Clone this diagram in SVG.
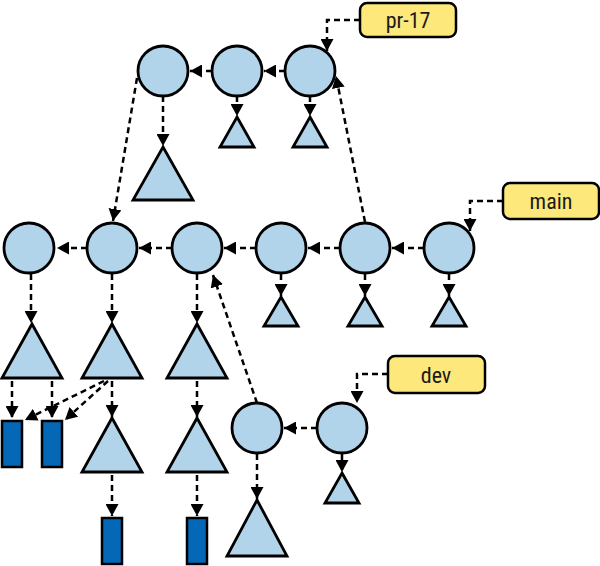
<svg xmlns="http://www.w3.org/2000/svg" width="600" height="566" viewBox="0 0 600 566">
<style>
.c{fill:#b2d4eb;stroke:#000;stroke-width:2.8}
.t{fill:#b2d4eb;stroke:#000;stroke-width:2.8;stroke-linejoin:miter}
.r{fill:#0568b7;stroke:#000;stroke-width:2.5}
.l{fill:#fde87b;stroke:#000;stroke-width:2.5}
.e{fill:none;stroke:#000;stroke-width:2.5;stroke-dasharray:6 4;marker-end:url(#ah)}
.tx{font-family:"Liberation Sans Narrow","Roboto Condensed","Liberation Sans",sans-serif;font-size:22px;fill:#1a1a1a;text-anchor:middle}
</style>
<defs>
<marker id="ah" markerUnits="userSpaceOnUse" markerWidth="13" markerHeight="13" refX="12" refY="6.5" orient="auto" viewBox="0 0 13 13">
<path d="M0,0 L12,6.5 L0,13 z" fill="#000"/>
</marker>
</defs>
<g id="edges">
<path class="e" d="M212,71 H190"/>
<path class="e" d="M285,71 H264"/>
<path class="e" d="M163,96 V146"/>
<path class="e" d="M237,96 V116"/>
<path class="e" d="M310,96 V116"/>
<path class="e" d="M360,20 H327 V51"/>
<path class="e" d="M365,222 L336,76"/>
<path class="e" d="M137,78 L113,221"/>
<path class="e" d="M87,248 H57"/>
<path class="e" d="M172,248 H139"/>
<path class="e" d="M256,248 H224"/>
<path class="e" d="M340,248 H308"/>
<path class="e" d="M424,248 H392"/>
<path class="e" d="M503,201 H470 V231"/>
<path class="e" d="M31,274 V323"/>
<path class="e" d="M112,274 V323"/>
<path class="e" d="M197,274 V323"/>
<path class="e" d="M281,274 V296"/>
<path class="e" d="M365,274 V296"/>
<path class="e" d="M449,274 V296"/>
<path class="e" d="M12,381 V418"/>
<path class="e" d="M52,381 V418"/>
<path class="e" d="M104,381 L25,420"/>
<path class="e" d="M108,381 L65,420"/>
<path class="e" d="M112,381 V417"/>
<path class="e" d="M197,381 V417"/>
<path class="e" d="M112,475 V516"/>
<path class="e" d="M197,475 V516"/>
<path class="e" d="M317,428 H284"/>
<path class="e" d="M388,374 H357 V403"/>
<path class="e" d="M342,454 V472"/>
<path class="e" d="M257,454 V499"/>
<path class="e" d="M257,403 L213,275"/>
</g>
<g id="n-t1"><circle class="c" cx="163" cy="71" r="25"/></g>
<g id="n-t2"><circle class="c" cx="237" cy="71" r="25"/></g>
<g id="n-t3"><circle class="c" cx="310" cy="71" r="25"/></g>
<g id="n-t1tri"><polygon class="t" points="163,147 193,200 133,200"/></g>
<g id="n-t2tri"><polygon class="t" points="237,117 254,147 220,147"/></g>
<g id="n-t3tri"><polygon class="t" points="310,117 327,147 293,147"/></g>
<g id="n-a"><circle class="c" cx="29" cy="248" r="25"/></g>
<g id="n-b"><circle class="c" cx="112" cy="248" r="25"/></g>
<g id="n-c"><circle class="c" cx="197" cy="248" r="25"/></g>
<g id="n-d"><circle class="c" cx="281" cy="248" r="25"/></g>
<g id="n-e"><circle class="c" cx="365" cy="248" r="25"/></g>
<g id="n-f"><circle class="c" cx="449" cy="248" r="25"/></g>
<g id="n-atri"><polygon class="t" points="32,324 62,378 2,378"/></g>
<g id="n-btri"><polygon class="t" points="112,324 142,378 82,378"/></g>
<g id="n-ctri"><polygon class="t" points="197,324 227,378 167,378"/></g>
<g id="n-dtri"><polygon class="t" points="281,297 298,326 264,326"/></g>
<g id="n-etri"><polygon class="t" points="365,297 382,326 348,326"/></g>
<g id="n-ftri"><polygon class="t" points="449,297 466,326 432,326"/></g>
<g id="n-btri2"><polygon class="t" points="112,418 142,472 82,472"/></g>
<g id="n-ctri2"><polygon class="t" points="197,418 227,472 167,472"/></g>
<g id="n-r1"><rect class="r" x="2" y="421" width="20" height="46"/></g>
<g id="n-r2"><rect class="r" x="42" y="421" width="20" height="46"/></g>
<g id="n-r3"><rect class="r" x="102" y="518" width="20" height="46"/></g>
<g id="n-r4"><rect class="r" x="187" y="518" width="20" height="46"/></g>
<g id="n-g"><circle class="c" cx="257" cy="428" r="25"/></g>
<g id="n-h"><circle class="c" cx="342" cy="428" r="25"/></g>
<g id="n-htri"><polygon class="t" points="342,473 359,503 325,503"/></g>
<g id="n-gtri"><polygon class="t" points="257,500 287,556 227,556"/></g>
<g id="n-pr17"><rect class="l" x="360" y="3" width="96" height="34" rx="7"/><text class="tx" x="408" y="28">pr-17</text></g>
<g id="n-main"><rect class="l" x="503" y="183" width="96" height="36" rx="7"/><text class="tx" x="551" y="209">main</text></g>
<g id="n-dev"><rect class="l" x="388" y="356" width="97" height="37" rx="7"/><text class="tx" x="436" y="383">dev</text></g>
</svg>
